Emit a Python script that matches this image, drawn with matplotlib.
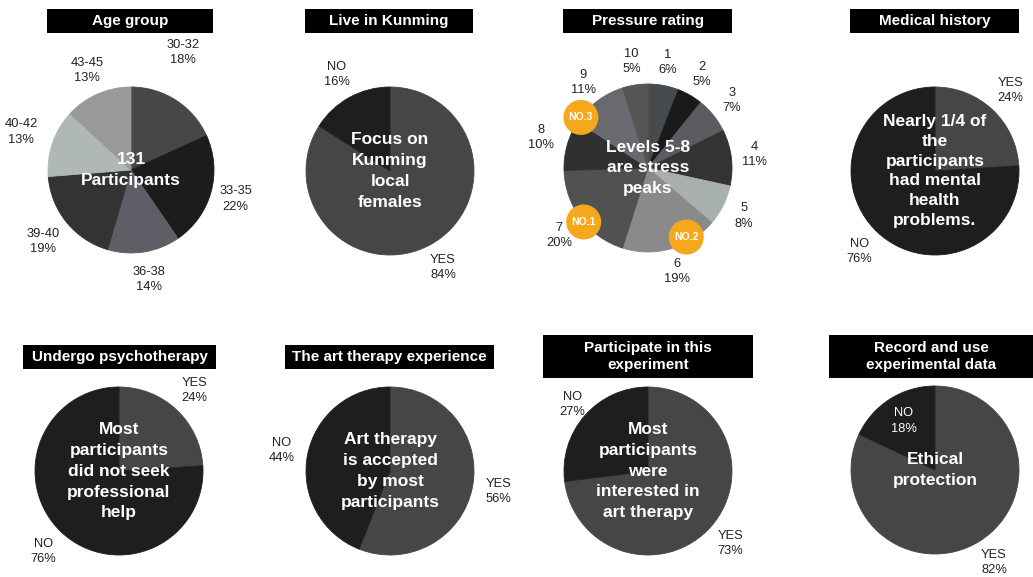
import matplotlib.pyplot as plt
from matplotlib.patches import Rectangle, Circle
import numpy as np

plt.rcParams['font.family'] = ['Liberation Sans', 'DejaVu Sans']

W, H = 1033, 577

# survey results (percent)
age_labels = ['30-32', '33-35', '36-38', '39-40', '40-42', '43-45']
age_values = [18, 22, 14, 19, 13, 13]
age_colors = ['#474747', '#1c1c1c', '#5f5e66', '#333333', '#b0b8b7', '#999999']

kunming_labels = ['YES', 'NO']
kunming_values = [84, 16]

pressure_labels = ['1', '2', '3', '4', '5', '6', '7', '8', '9', '10']
pressure_values = [6, 5, 7, 11, 8, 19, 20, 10, 11, 5]
pressure_colors = ['#474a4c', '#1a1a1a', '#5c5b62', '#333333', '#a8b0ae',
                   '#8a8a8a', '#505252', '#303030', '#6a6970', '#555555']

medical_labels = ['YES', 'NO']
medical_values = [24, 76]

psycho_labels = ['YES', 'NO']
psycho_values = [24, 76]

art_labels = ['YES', 'NO']
art_values = [56, 44]

participate_labels = ['YES', 'NO']
participate_values = [73, 27]

record_labels = ['YES', 'NO']
record_values = [82, 18]

yes_no_colors = ['#464646', '#1e1e1e']

fig = plt.figure(figsize=(W / 100, H / 100), dpi=100)
ax = fig.add_axes([0, 0, 1, 1])


def title_box(x0, x1, y0, y1, text):
    ax.add_patch(Rectangle((x0, H - y1), x1 - x0, y1 - y0, color='black', lw=0))
    ax.text((x0 + x1) / 2, H - (y0 + y1) / 2, text, color='white', fontsize=11,
            fontweight='bold', ha='center', va='center', linespacing=1.3)


def draw_pie(cx, cy, r, values, labels, colors, center_text, dist=1.31, dist_fix=None,
             angle_fix=None, inside=(), spacing=1.5):
    wedges, _ = ax.pie(values, colors=colors, startangle=90, counterclock=False,
                       center=(cx, H - cy), radius=r, frame=True,
                       wedgeprops=dict(linewidth=0.6))
    for w in wedges:
        w.set_edgecolor(w.get_facecolor())
    dist_fix = dist_fix or {}
    angle_fix = angle_fix or {}
    for i, (w, lab, v) in enumerate(zip(wedges, labels, values)):
        ang = np.deg2rad((w.theta1 + w.theta2) / 2 + angle_fix.get(i, 0))
        d = dist_fix.get(i, dist) * r
        ax.text(cx + d * np.cos(ang), H - cy + d * np.sin(ang), f'{lab}\n{v}%',
                fontsize=9.3, color='white' if i in inside else '#222222',
                ha='center', va='center', linespacing=1.35)
    ax.text(cx, H - cy, center_text, color='white', fontsize=12.5, fontweight='bold',
            ha='center', va='center', linespacing=spacing)
    return wedges


# top row
title_box(47, 213, 9, 33, 'Age group')
draw_pie(131, 170, 83, age_values, age_labels, age_colors, '131\nParticipants',
         dist_fix={0: 1.55, 2: 1.34, 3: 1.36, 4: 1.4}, angle_fix={0: 9})

title_box(305, 473, 9, 33, 'Live in Kunming')
draw_pie(390, 171, 84, kunming_values, kunming_labels, yes_no_colors,
         'Focus on\nKunming\nlocal\nfemales')

title_box(563, 732, 9, 33, 'Pressure rating')
draw_pie(648, 168, 84, pressure_values, pressure_labels, pressure_colors,
         'Levels 5-8\nare stress\npeaks', dist=1.28, dist_fix={6: 1.33, 7: 1.32})

# orange ranking badges on the peak slices
for ang, d, tag in [(-140, 1.0, 'NO.1'), (-61, 0.94, 'NO.2'), (143, 1.0, 'NO.3')]:
    a = np.deg2rad(ang)
    bx, by = 648 + d * 84 * np.cos(a), H - 168 + d * 84 * np.sin(a)
    ax.add_patch(Circle((bx, by), 17.5, color='#f5a81c', lw=0, zorder=5))
    ax.text(bx, by, tag, color='white', fontsize=7.5, fontweight='bold',
            ha='center', va='center', zorder=6)

title_box(850, 1019, 9, 33, 'Medical history')
draw_pie(935, 171, 84, medical_values, medical_labels, yes_no_colors,
         'Nearly 1/4 of\nthe\nparticipants\nhad mental\nhealth\nproblems.', spacing=1.4)

# bottom row
title_box(23, 216, 345, 369, 'Undergo psychotherapy')
draw_pie(119, 471, 84, psycho_values, psycho_labels, yes_no_colors,
         'Most\nparticipants\ndid not seek\nprofessional\nhelp')

title_box(285, 494, 345, 369, 'The art therapy experience')
draw_pie(390, 471, 84, art_values, art_labels, yes_no_colors,
         'Art therapy\nis accepted\nby most\nparticipants')

title_box(543, 753, 335, 378, 'Participate in this\nexperiment')
draw_pie(648, 471, 84, participate_values, participate_labels, yes_no_colors,
         'Most\nparticipants\nwere\ninterested in\nart therapy', dist_fix={1: 1.2})

title_box(829, 1033, 335, 378, 'Record and use\nexperimental data')
draw_pie(935, 470, 84, record_values, record_labels, yes_no_colors,
         'Ethical\nprotection', dist_fix={1: 0.69}, inside=(1,))

ax.set_xlim(0, W)
ax.set_ylim(0, H)
ax.set_aspect('equal')
ax.axis('off')

plt.savefig('out.png', dpi=100, facecolor='white')
